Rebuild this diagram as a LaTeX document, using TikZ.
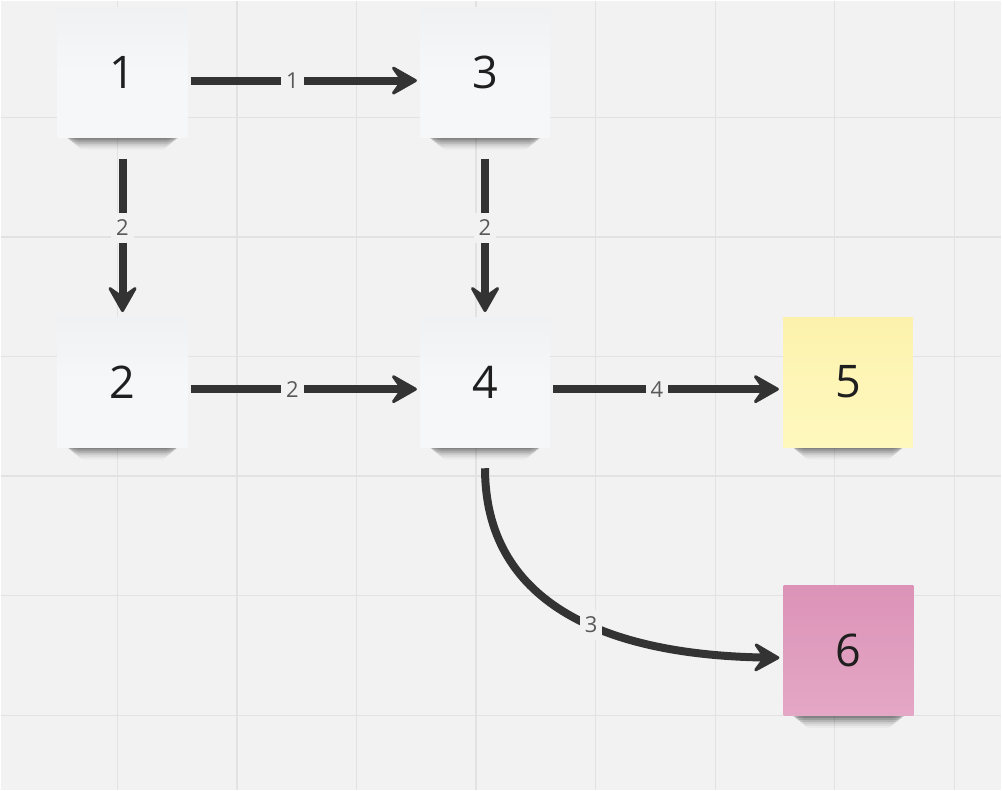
\documentclass[tikz,border=0pt]{standalone}
\usepackage{fontspec}
\setmainfont{Open Sans}
\usetikzlibrary{arrows.meta}
\definecolor{bg}{HTML}{F2F2F2}
\definecolor{gridc}{HTML}{E2E2E2}
\definecolor{ink}{HTML}{333333}
\definecolor{lblc}{HTML}{595959}
\definecolor{wtop}{HTML}{F0F1F3}
\definecolor{wbot}{HTML}{F6F7F9}
\definecolor{ytop}{HTML}{FCF2AC}
\definecolor{ybot}{HTML}{FFF8BE}
\definecolor{ptop}{HTML}{DC93B7}
\definecolor{pbot}{HTML}{E4A7C5}
\pgfdeclarelayer{back}
\pgfsetlayers{back,main}
\begin{document}
\begin{tikzpicture}[x=1pt,y=-1pt,
  note/.style={minimum width=130pt,minimum height=130pt,inner sep=0pt,
    top color=wtop,bottom color=wbot,middle color=wbot,text=black!88,
    font=\fontsize{45}{54}\selectfont},
  yellownote/.style={top color=ytop,bottom color=ybot,middle color=ybot!60!ytop},
  pinknote/.style={top color=ptop,bottom color=pbot,middle color=pbot!50!ptop},
  conn/.style={draw=ink,line width=8pt,
    -{Stealth[length=30pt 0 0,width=34pt 0 0,inset=12pt 0 0,line width=3pt,round]}},
  lbl/.style={fill=bg,text=lblc,font=\fontsize{22}{26}\selectfont,
    inner xsep=5pt,inner ysep=7pt}]
\node[note] (n1) at (122,72) {1};
\node[note] (n3) at (485,72) {3};
\node[note] (n2) at (122,382) {2};
\node[note] (n4) at (485,382) {4};
\node[note,yellownote] (n5) at (848.5,382) {5};
\node[note,pinknote] (n6) at (849,651) {6};

\begin{pgfonlayer}{back}
\fill[bg] (0,0) rectangle (1002,790);
\foreach \gx in {117,236.7,356.4,476.1,595.8,715.5,835.2,954.9}
  \draw[gridc,line width=1.4pt] (\gx,0) -- (\gx,790);
\foreach \gy in {117,236.7,356.4,476.1,595.8,715.5}
  \draw[gridc,line width=1.4pt] (0,\gy) -- (1002,\gy);
\foreach \n in {n1,n2,n3,n4,n5,n6}
  \foreach \k/\o in {2/.16,4/.13,6/.11,8/.08,10/.05,12/.03}
    \fill[black,opacity=\o,rounded corners=5pt]
      ([shift={(6+1.2*\k,-20)}]\n.south west) rectangle ([shift={(-6-1.2*\k,\k)}]\n.south east);
\end{pgfonlayer}
\useasboundingbox (0,0) rectangle (1002,790);

\draw[conn] ([shift={(3,8)}]n1.east) -- ([shift={(-3,8)}]n3.west) node[lbl,pos=.45]{1};
\draw[conn] ([shift={(3,7)}]n2.east) -- ([shift={(-3,7)}]n4.west) node[lbl,pos=.45]{2};
\draw[conn] ([shift={(3,7)}]n4.east) -- ([shift={(-4,7)}]n5.west) node[lbl,pos=.46]{4};
\draw[conn] ([shift={(0,21)}]n1.south) -- ([shift={(0,-5)}]n2.north) node[lbl,pos=.45]{2};
\draw[conn] ([shift={(0,21)}]n3.south) -- ([shift={(0,-5)}]n4.north) node[lbl,pos=.45]{2};
\draw[conn] ([shift={(0,21)}]n4.south) .. controls +(0,132) and +(-180,-3) .. ([shift={(-4,7)}]n6.west) node[lbl,pos=.58]{3};
\end{tikzpicture}
\end{document}
